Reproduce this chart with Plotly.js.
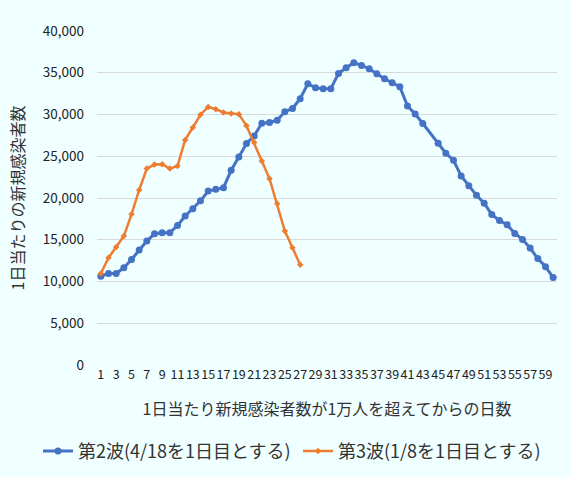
<!DOCTYPE html>
<html>
<head>
<meta charset="utf-8">
<script src="https://cdn.plot.ly/plotly-3.0.1.min.js"></script>
<style>
  html, body { margin: 0; padding: 0; background: #F0FFFF; }
  #chart { width: 571px; height: 477px; }
</style>
</head>
<body>
<div id="chart"></div>
<script>
// days since daily new cases passed 10,000
var days = [];
for (var d = 1; d <= 60; d++) days.push(d);

// second wave (day 1 = 4/18); no marker on day 44 in the source
var wave2 = [10640, 10960, 10960, 11640, 12640, 13760, 14840, 15720, 15840, 15840,
             16720, 17840, 18720, 19660, 20840, 21040, 21240, 23320, 24920, 26520,
             27440, 28960, 29040, 29320, 30330, 30730, 31890, 33680, 33200, 33090,
             33090, 34920, 35600, 36200, 35880, 35480, 34880, 34280, 33800, 33320,
             31020, 30050, 28920, null, 26560, 25360, 24520, 22630, 21480, 20320,
             19370, 18010, 17300, 16790, 15750, 15040, 14000, 12740, 11780, 10470];

// third wave (day 1 = 1/8)
var wave3 = [10950, 12840, 14120, 15440, 18040, 20960, 23520, 24000, 24040, 23520,
             23840, 26960, 28440, 29980, 30900, 30640, 30240, 30120, 30040, 28640,
             26640, 24440, 22320, 19320, 16040, 14040, 12000];

var xTicks = [];
for (var t = 1; t <= 59; t += 2) xTicks.push(t);

var jp = '"Noto Sans CJK JP", "Noto Sans", sans-serif';

var trace2 = {
  x: days,
  y: wave2,
  name: '第2波(4/18を1日目とする)',
  type: 'scatter',
  mode: 'lines+markers',
  connectgaps: true,
  legend: 'legend',
  line: {color: '#4472C4', width: 3},
  marker: {color: '#4472C4', size: 7, symbol: 'circle'}
};

var trace3 = {
  x: days.slice(0, wave3.length),
  y: wave3,
  name: '第3波(1/8を1日目とする)',
  type: 'scatter',
  mode: 'lines+markers',
  legend: 'legend2',
  line: {color: '#ED7D31', width: 2.5},
  marker: {color: '#ED7D31', size: 5, symbol: 'diamond'}
};

// the two legend entries sit side by side under the chart
var legendBase = {
  orientation: 'h',
  xref: 'container', yref: 'container',
  xanchor: 'left',
  y: 0.015, yanchor: 'bottom',
  font: {size: 18, color: '#333333'},
  itemwidth: 30,
  bgcolor: 'rgba(0,0,0,0)'
};

var layout = {
  width: 571,
  height: 477,
  paper_bgcolor: '#F0FFFF',
  plot_bgcolor: '#F0FFFF',
  font: {family: jp, color: '#333333', size: 13},
  margin: {l: 97, r: 14, t: 31, b: 112},
  showlegend: true,
  legend: Object.assign({}, legendBase, {x: 38 / 571}),
  legend2: Object.assign({}, legendBase, {x: 298 / 571}),
  xaxis: {
    range: [0.5, 60.5],
    tickmode: 'array',
    tickvals: xTicks,
    ticktext: xTicks.map(String),
    tickangle: 0,
    showgrid: false,
    zeroline: false,
    showline: false,
    ticks: '',
    fixedrange: true,
    automargin: true,
    tickfont: {size: 12.5, color: '#222222'},
    title: {text: '1日当たり新規感染者数が1万人を超えてからの日数', font: {size: 16, color: '#333333'}, standoff: 22}
  },
  yaxis: {
    range: [0, 40000],
    dtick: 5000,
    tickformat: ',d',
    showgrid: true,
    gridcolor: '#D9D9D9',
    gridwidth: 1,
    zeroline: false,
    showline: false,
    ticks: '',
    ticklabelstandoff: 12,
    automargin: false,
    tickfont: {size: 13.5, color: '#222222'},
    title: {text: '1日当たりの新規感染者数', font: {size: 16, color: '#333333'}, standoff: 14}
  }
};

Plotly.newPlot('chart', [trace2, trace3], layout, {displayModeBar: false, staticPlot: true});
</script>
</body>
</html>
